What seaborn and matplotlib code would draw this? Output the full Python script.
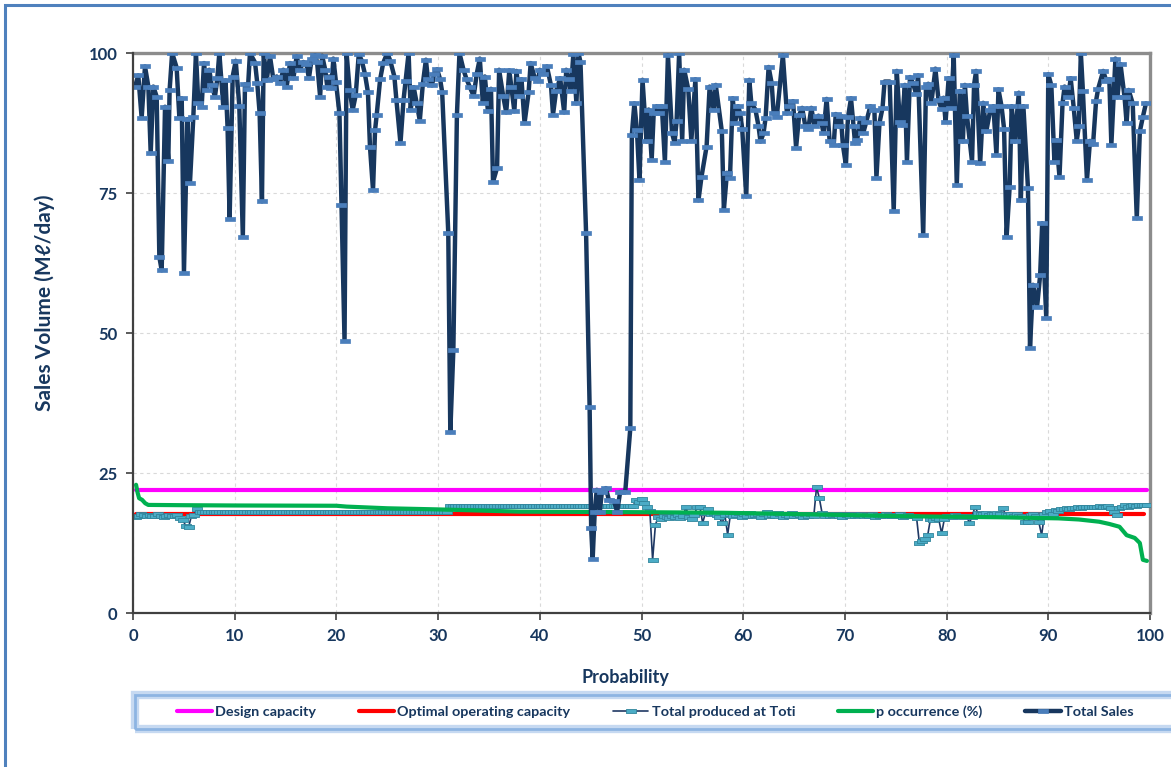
import numpy as np
import pandas as pd
import matplotlib.pyplot as plt
import seaborn as sns
from matplotlib.patches import Rectangle

NAVY = "#17375E"

# Total Sales (probability %, Ml/day)
sales_prob = [
    0.2, 0.52, 0.85, 1.18, 1.51, 1.74, 2.0, 2.33, 2.59, 2.82,
    3.15, 3.47, 3.6, 3.85, 4.29, 4.56, 4.79, 5.01, 5.34, 5.6,
    5.93, 6.19, 6.42, 6.75, 6.98, 7.24, 7.5, 7.73, 8.06, 8.29,
    8.49, 8.88, 9.1, 9.3, 9.5, 9.8, 10.1, 10.45, 10.8, 11.01,
    11.3, 11.5, 12.0, 12.22, 12.45, 12.68, 12.85, 13.14, 13.47, 13.8,
    14.13, 14.45, 14.78, 15.11, 15.44, 15.77, 16.09, 16.42, 16.75, 17.05,
    17.3, 17.57, 17.9, 18.1, 18.4, 18.6, 18.9, 19.1, 19.3, 19.5,
    19.7, 19.96, 20.3, 20.5, 20.8, 21.0, 21.3, 21.6, 21.9, 22.2,
    22.5, 22.8, 23.1, 23.3, 23.6, 23.8, 23.96, 24.3, 24.6, 25.0,
    25.3, 25.7, 25.9, 26.3, 26.6, 26.8, 27.1, 27.3, 27.6, 27.9,
    28.2, 28.5, 28.8, 29.0, 29.4, 29.6, 29.9, 30.2, 30.4, 31.0,
    31.2, 31.5, 31.85, 32.1, 32.5, 32.8, 33.1, 33.5, 33.8, 34.1,
    34.4, 34.6, 34.9, 35.2, 35.4, 35.8, 36.0, 36.4, 36.7, 37.0,
    37.2, 37.5, 37.7, 38.0, 38.2, 38.5, 38.9, 39.1, 39.5, 39.8,
    40.0, 40.3, 40.7, 41.1, 41.3, 41.6, 42.0, 42.4, 42.6, 42.85,
    43.05, 43.3, 43.6, 43.8, 44.0, 44.55, 44.9, 45.05, 45.2, 45.4,
    45.6, 45.9, 46.1, 46.5, 46.8, 47.3, 47.6, 47.9, 48.4, 48.9,
    49.05, 49.3, 49.55, 49.8, 50.1, 50.5, 50.7, 51.0, 51.2, 51.5,
    51.7, 52.0, 52.3, 52.6, 53.0, 53.25, 53.45, 53.7, 54.0, 54.2,
    54.6, 54.9, 55.3, 55.6, 55.9, 56.4, 56.7, 57.1, 57.3, 57.9,
    58.1, 58.4, 58.7, 58.97, 59.2, 59.5, 59.7, 59.9, 60.3, 60.6,
    60.8, 61.2, 61.5, 61.7, 62.0, 62.2, 62.5, 62.8, 63.0, 63.3,
    63.9, 64.3, 64.5, 64.9, 65.2, 65.5, 65.8, 66.1, 66.4, 66.7,
    67.0, 67.4, 67.7, 67.9, 68.2, 68.5, 68.9, 69.1, 69.4, 69.6,
    69.8, 70.1, 70.3, 70.6, 70.85, 71.0, 71.2, 71.5, 71.8, 72.1,
    72.5, 72.9, 73.1, 73.4, 73.7, 73.9, 74.4, 74.8, 75.1, 75.4,
    75.6, 75.9, 76.1, 76.4, 76.7, 77.0, 77.2, 77.7, 77.97, 78.2,
    78.5, 78.9, 79.2, 79.5, 79.7, 79.9, 80.2, 80.45, 80.7, 81.0,
    81.3, 81.6, 81.8, 82.0, 82.5, 82.7, 82.9, 83.3, 83.6, 83.9,
    84.3, 84.6, 84.9, 85.1, 85.4, 85.65, 85.9, 86.2, 86.4, 86.7,
    87.1, 87.3, 87.55, 88.0, 88.2, 88.5, 88.9, 89.2, 89.4, 89.8,
    90.0, 90.3, 90.6, 90.8, 91.1, 91.4, 91.6, 91.97, 92.2, 92.5,
    92.8, 93.0, 93.2, 93.4, 93.8, 94.1, 94.4, 94.7, 94.9, 95.4,
    95.7, 96.0, 96.2, 96.6, 96.8, 97.1, 97.5, 97.7, 97.9, 98.3,
    98.7, 99.0, 99.3, 99.6,
]
sales_mld = [
    94.0, 96.0, 88.4, 97.6, 94.0, 82.1, 94.0, 92.2, 63.6, 61.2,
    90.4, 80.7, 93.4, 100, 97.4, 88.4, 91.9, 60.8, 88.2, 76.8,
    88.5, 100, 91.1, 90.4, 98.2, 93.4, 97.0, 94.3, 92.2, 95.5,
    100, 90.4, 95.1, 86.6, 70.4, 95.8, 98.6, 90.6, 67.2, 94.4,
    93.6, 100, 98.3, 94.6, 89.3, 73.5, 100, 95.1, 99.4, 95.3,
    95.8, 94.6, 97.0, 94.0, 98.2, 95.5, 99.4, 97.0, 98.4, 98.0,
    95.5, 99.0, 99.6, 98.4, 92.2, 99.5, 97.0, 94.0, 95.8, 93.7,
    99.0, 94.8, 89.2, 72.9, 48.6, 100, 93.4, 89.8, 92.5, 99.8,
    98.6, 96.3, 93.0, 83.3, 75.5, 86.2, 88.9, 95.3, 98.2, 100,
    98.6, 95.8, 91.6, 83.9, 91.6, 95.0, 100, 89.8, 93.9, 91.0,
    87.9, 94.5, 98.8, 95.3, 94.2, 96.3, 97.1, 95.3, 93.0, 67.9,
    32.3, 47.0, 88.9, 100, 97.0, 95.3, 94.0, 92.3, 96.3, 99.0,
    91.1, 95.8, 89.6, 93.6, 77.0, 79.5, 97.0, 92.3, 89.4, 96.9,
    94.0, 89.6, 96.8, 92.3, 95.3, 87.5, 93.0, 98.2, 95.5, 95.0,
    97.0, 96.3, 97.6, 94.2, 89.0, 93.2, 95.5, 89.4, 97.0, 95.3,
    93.2, 99.8, 91.0, 100, 98.4, 67.9, 36.7, 15.2, 9.7, 18.1,
    22.0, 18.1, 21.6, 22.3, 20.1, 20.0, 18.1, 21.6, 21.6, 33.0,
    85.4, 91.0, 86.2, 77.3, 95.2, 84.2, 89.9, 80.9, 89.3, 90.5,
    89.3, 90.5, 80.6, 99.6, 85.7, 84.0, 87.8, 100, 84.3, 97.0,
    93.5, 84.3, 95.3, 73.7, 77.9, 83.3, 94.0, 89.9, 94.3, 86.0,
    72.0, 78.6, 77.7, 91.9, 87.5, 90.5, 89.2, 86.5, 74.4, 95.2,
    91.0, 89.9, 87.0, 84.2, 85.7, 88.4, 97.5, 94.6, 89.2, 88.6,
    99.6, 89.2, 90.5, 91.4, 83.1, 88.9, 90.2, 87.0, 86.5, 90.2,
    87.0, 88.8, 87.5, 85.7, 91.8, 84.2, 83.6, 89.1, 86.9, 88.8,
    83.6, 80.0, 88.5, 91.9, 86.9, 83.9, 84.4, 88.4, 85.7, 87.7,
    90.5, 89.9, 77.7, 87.5, 90.2, 94.9, 94.9, 71.8, 96.8, 87.7,
    87.1, 94.3, 80.6, 95.7, 94.6, 92.7, 96.0, 67.5, 93.9, 94.5,
    91.1, 97.2, 91.6, 90.0, 92.0, 87.7, 95.5, 90.2, 99.6, 76.4,
    93.2, 84.2, 94.3, 88.8, 80.6, 94.3, 96.8, 80.3, 91.1, 86.0,
    89.9, 90.5, 81.8, 93.5, 90.5, 86.5, 67.2, 76.1, 90.5, 84.2,
    92.9, 73.7, 90.5, 75.9, 47.4, 58.6, 54.7, 60.4, 69.6, 52.7,
    96.2, 94.2, 80.6, 84.4, 77.9, 91.0, 94.0, 92.2, 95.5, 90.2,
    84.3, 87.0, 100, 93.3, 77.3, 84.3, 83.7, 91.5, 93.6, 96.8,
    95.0, 95.3, 83.6, 99.0, 92.1, 98.0, 92.1, 87.5, 93.4, 91.0,
    70.5, 86.0, 88.6, 91.0,
]

# Total produced at Toti, one value per day (ranked)
toti_mld = (
    [17.2, 17.4, 17.6, 17.5, 17.3, 17.5, 17.4, 17.3, 17.6, 17.4, 17.2, 17.3,
     17.5, 17.4, 17.3, 17.5, 17.0, 16.6, 15.5, 15.3, 17.3, 17.5, 18.5]
    + [18.1] * 90
    + [19.1] * 67
    + [20.2, 19.8, 20.3, 19.6, 18.9, 18.3, 9.5, 15.7, 17.2, 16.8, 17.3, 17.2,
       16.9, 17.4, 17.1, 17.5, 17.0, 17.3, 18.9, 17.1, 16.8, 17.5, 18.9, 19.0,
       16.1, 17.8, 18.5, 17.6, 17.9, 17.5, 17.2, 16.0, 17.5, 14.0, 17.6, 17.3]
    + [17.5, 17.8, 17.2, 17.6, 17.4, 17.9, 17.3, 17.5, 17.7, 17.2, 17.6, 18.0,
       17.4, 17.5, 17.3, 17.8, 17.6, 17.2, 17.5, 17.4, 17.9, 17.3, 17.6, 17.5,
       17.2, 17.7, 17.4, 17.6, 17.3]
    + [22.5, 20.5]
    + [17.8, 17.4, 17.6, 17.3, 17.5, 17.7, 17.4, 17.2, 17.6, 17.5, 17.3, 17.6,
       17.4, 17.5, 17.7, 17.3, 17.5, 17.4, 17.6, 17.2, 17.5, 17.4, 17.3, 17.6,
       17.5, 17.4, 17.3, 17.5, 17.6, 17.2, 17.4, 17.5, 17.3, 17.4]
    + [17.0, 12.5, 12.8, 13.2, 13.9, 16.8, 16.6, 17.0, 16.7, 14.2, 16.8, 17.3]
    + [17.4, 17.2, 17.5, 17.3, 17.4, 17.2, 17.3, 16.1, 17.2, 19.0, 17.9]
    + [17.7, 17.6, 17.8, 17.5, 17.7, 17.6, 17.8, 17.7, 18.7, 17.6]
    + [17.5, 17.7, 17.4, 17.6, 17.3, 17.4, 16.3, 16.2, 17.5, 17.7, 17.4, 16.2,
       13.9, 17.6, 18.1, 18.3, 17.6, 18.4, 18.3, 18.6, 18.5]
    + [18.7, 18.6, 18.8, 18.7, 18.9, 18.8, 18.9, 19.0, 18.9, 19.0, 18.9, 19.0,
       19.1, 18.9, 19.0, 19.1, 18.8, 18.0, 17.5, 18.7, 19.0, 19.2, 18.9, 19.1,
       19.2, 19.1, 19.2, 19.3, 19.2, 19.3]
)

# p occurrence (%) duration curve
occ_prob = [0.3, 0.45, 0.6, 0.9, 1.2, 1.5, 5, 10, 20, 21, 25, 30, 38, 50,
            58, 70, 75, 80, 85, 88, 91, 93, 95, 96, 97, 97.7, 98.5, 99.0,
            99.3, 99.7]
occ_value = [22.9, 21.5, 20.5, 20.2, 19.6, 19.3, 19.25, 19.2, 19.15, 19.0,
             18.7, 18.5, 18.1, 18.0, 17.9, 17.5, 17.3, 17.2, 17.1, 17.0,
             16.9, 16.7, 16.3, 15.9, 15.4, 13.9, 13.4, 12.5, 9.5, 9.3]

design_prob = [0.3, 99.7]
design_value = [22.0, 22.0]
optimal_prob = [0.3, 99.4]
optimal_value = [17.6, 17.6]

n_days = len(toti_mld)
toti_prob = 100.0 * np.arange(1, n_days + 1) / (n_days + 1)

sns.set_theme(style="whitegrid")
plt.rcParams.update({
    "font.family": ["Lato", "DejaVu Sans"],
    "axes.facecolor": "white",
})

# short horizontal bar marker, as in the spreadsheet chart
dash = [(-2.0, -0.8), (2.0, -0.8), (2.0, 0.8), (-2.0, 0.8), (-2.0, -0.8)]

fig = plt.figure(figsize=(11.71, 7.67), dpi=100)
ax = fig.add_axes([133 / 1171, 1 - 613 / 767, 1017 / 1171, 560 / 767])

sns.lineplot(x=design_prob, y=design_value, ax=ax, color="#FF00FF", lw=3,
             estimator=None, label="Design capacity", zorder=2)
sns.lineplot(x=optimal_prob, y=optimal_value, ax=ax, color="#FF0000", lw=3,
             estimator=None, label="Optimal operating capacity", zorder=2)
sns.lineplot(x=toti_prob, y=toti_mld, ax=ax, color="#1F3864", lw=1.2,
             estimator=None, marker=dash, ms=7.2, mfc="#4BACC6", mec="#31859C",
             mew=0.6, label="Total produced at Toti", zorder=3)
sns.lineplot(x=occ_prob, y=occ_value, ax=ax, color="#00B050", lw=3,
             estimator=None, label="p occurrence (%)", zorder=4)
sns.lineplot(x=sales_prob, y=sales_mld, ax=ax, color=NAVY, lw=3.2,
             estimator=None, marker=dash, ms=7.5, mfc="#4A7EBB", mec="#4A7EBB",
             mew=0.5, label="Total Sales", zorder=5)

ax.set_xlim(0, 100)
ax.set_ylim(0, 100)
ax.set_xticks(range(0, 101, 10))
ax.set_yticks([0, 25, 50, 75, 100])
ax.grid(True, color="#D9D9D9", linestyle=(0, (3, 3)), lw=0.8)
ax.set_axisbelow(True)

for side in ["top", "right"]:
    ax.spines[side].set_color("#8C8C8C")
    ax.spines[side].set_linewidth(2.4)
for side in ["left", "bottom"]:
    ax.spines[side].set_color("#404040")
    ax.spines[side].set_linewidth(1.6)
    ax.spines[side].set_zorder(6)

ax.tick_params(axis="both", which="major", bottom=True, left=True,
               direction="out", length=5, width=1.2, color="#404040",
               labelsize=12, labelcolor=NAVY, pad=6)
for lbl in ax.get_xticklabels() + ax.get_yticklabels():
    lbl.set_fontweight("bold")

ax.set_xlabel("Probability", fontsize=13, fontweight="bold", color=NAVY)
ax.xaxis.set_label_coords(0.484, -0.116)
ax.xaxis.label.set_va("center")
ax.set_ylabel("Sales Volume (M\u2113/day)", fontsize=15, fontweight="bold", color=NAVY)
ax.yaxis.set_label_coords(-0.0865, 0.554)
ax.yaxis.label.set_va("center")

handles, labels = ax.get_legend_handles_labels()
ax.get_legend().remove()

# chart border and legend box
fig.patches.append(Rectangle((5 / 1171, -0.1), 1.2, 1.1 - 5 / 767, fill=False,
                             edgecolor="#4F81BD", lw=2.2, transform=fig.transFigure))
box = (135 / 1171, 1 - 729 / 767, 1.1, 34 / 767)
fig.patches.append(Rectangle(box[:2], box[2], box[3], fill=False,
                             edgecolor="#C6D9F1", lw=6, transform=fig.transFigure))
fig.patches.append(Rectangle(box[:2], box[2], box[3], fill=False,
                             edgecolor="#8DB4E2", lw=2, transform=fig.transFigure))

fig.legend(handles, labels, ncol=5, loc="center",
           bbox_to_anchor=(655 / 1171, 1 - 712 / 767), frameon=False,
           prop={"weight": "bold", "size": 10.4}, labelcolor=NAVY,
           handlelength=2.45, handletextpad=0.22, columnspacing=2.95,
           numpoints=1)

fig.savefig("out.png", dpi=100)
plt.close(fig)
